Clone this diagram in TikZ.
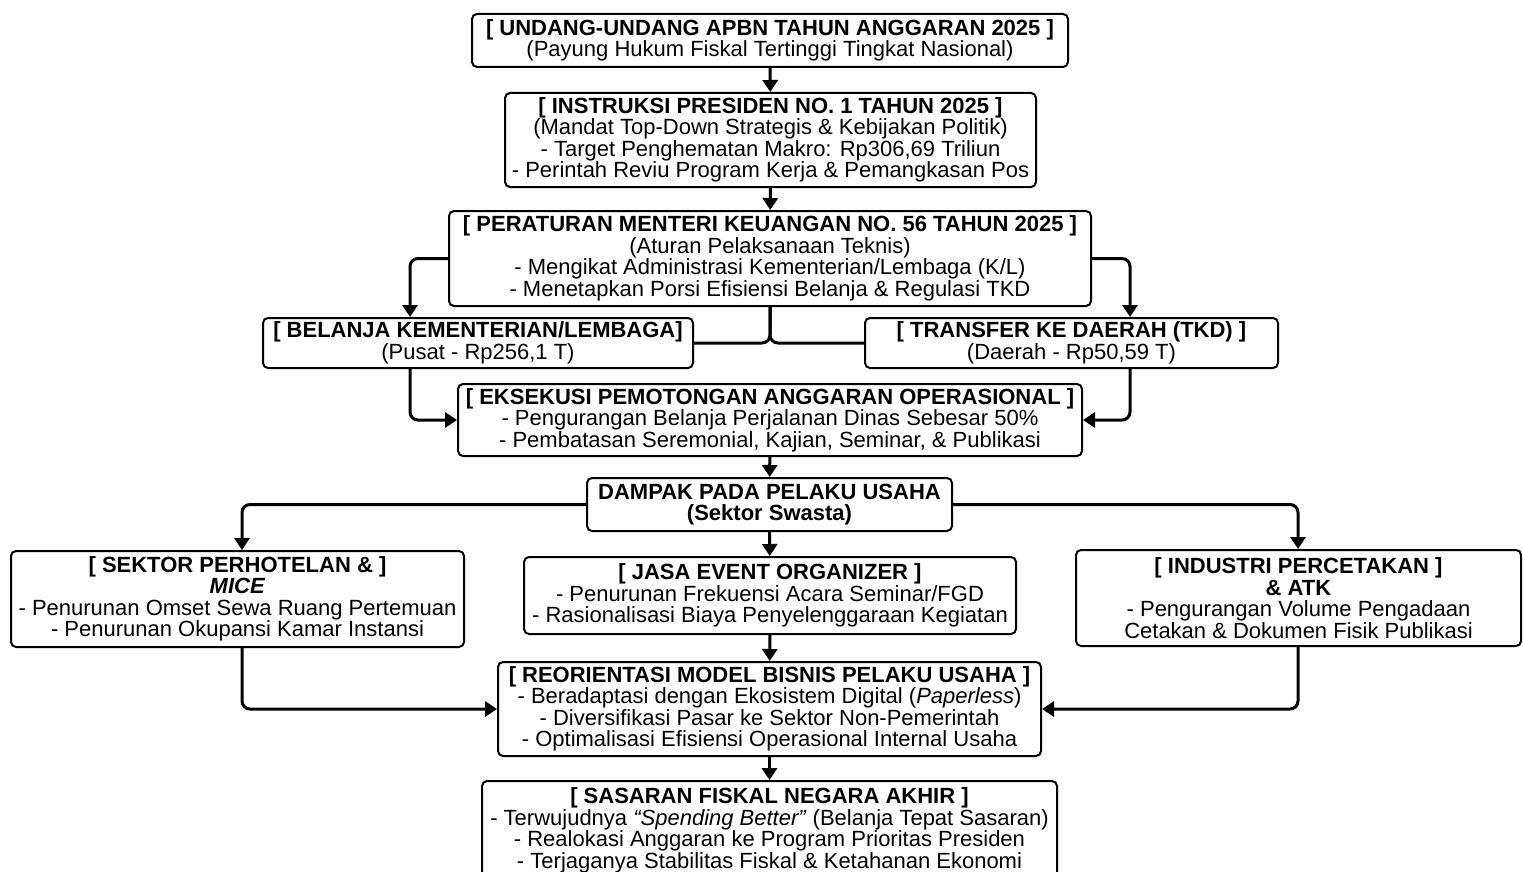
\documentclass[tikz,border=0pt]{standalone}
\usepackage{fontspec}
\setmainfont{Liberation Sans}
\usepackage{tikz}
\usetikzlibrary{arrows.meta}
\definecolor{garis}{RGB}{0,0,0}

\begin{document}
\begin{tikzpicture}[x=1pt,y=-1pt,
  kotak/.style={draw=garis,line width=2pt,rounded corners=5pt,align=center,inner sep=2pt,
    font=\fontsize{22}{21.5}\selectfont},
  panah/.style={draw=garis,line width=3pt,rounded corners=8pt,-{Triangle[width=15pt,length=12pt]}},
  sambung/.style={draw=garis,line width=3pt,rounded corners=8pt}]
\useasboundingbox (0,0) rectangle (1523,872);
\fill[white] (0,0) rectangle (1523,872);

\node [kotak,minimum width=596pt,minimum height=53pt] (uu) at (770,40.5)
{\textbf{[ UNDANG-UNDANG APBN TAHUN ANGGARAN 2025 ]}\\(Payung Hukum Fiskal Tertinggi Tingkat Nasional)};
\node [kotak,minimum width=531pt,minimum height=94pt] (inpres) at (770.5,140)
{\textbf{[ INSTRUKSI PRESIDEN NO. 1 TAHUN 2025 ]}\\(Mandat Top-Down Strategis \& Kebijakan Politik)\\
- Target Penghematan Makro: Rp306,69 Triliun\\- Perintah Reviu Program Kerja \& Pemangkasan Pos};
\node [kotak,minimum width=642pt,minimum height=95pt] (pmk) at (770,258.5)
{\textbf{[ PERATURAN MENTERI KEUANGAN NO. 56 TAHUN 2025 ]}\\(Aturan Pelaksanaan Teknis)\\
- Mengikat Administrasi Kementerian/Lembaga (K/L)\\- Menetapkan Porsi Efisiensi Belanja \& Regulasi TKD};
\node [kotak,minimum width=430pt,minimum height=50pt] (kl) at (478,343)
{\textbf{[ BELANJA KEMENTERIAN/LEMBAGA]}\\(Pusat - Rp256,1 T)};
\node [kotak,minimum width=413pt,minimum height=50pt] (tkd) at (1071.5,343)
{\textbf{[ TRANSFER KE DAERAH (TKD) ]}\\(Daerah - Rp50,59 T)};
\node [kotak,minimum width=624pt,minimum height=72pt] (eksekusi) at (770,420)
{\textbf{[ EKSEKUSI PEMOTONGAN ANGGARAN OPERASIONAL ]}\\- Pengurangan Belanja Perjalanan Dinas Sebesar 50\%\\
- Pembatasan Seremonial, Kajian, Seminar, \& Publikasi};
\node [kotak,minimum width=365pt,minimum height=53pt] (dampak) at (769.5,504.5)
{\textbf{DAMPAK PADA PELAKU USAHA}\\\textbf{(Sektor Swasta)}};
\node [kotak,minimum width=453pt,minimum height=96pt] (hotel) at (237.5,599)
{\textbf{[ SEKTOR PERHOTELAN \& ]}\\\textbf{\textit{MICE}}\\
- Penurunan Omset Sewa Ruang Pertemuan\\- Penurunan Okupansi Kamar Instansi};
\node [kotak,minimum width=492pt,minimum height=77pt] (eo) at (770,595.5)
{\textbf{[ JASA EVENT ORGANIZER ]}\\- Penurunan Frekuensi Acara Seminar/FGD\\
- Rasionalisasi Biaya Penyelenggaraan Kegiatan};
\node [kotak,minimum width=445pt,minimum height=96pt] (cetak) at (1298.5,598)
{\textbf{[ INDUSTRI PERCETAKAN ]}\\\textbf{\& ATK}\\
- Pengurangan Volume Pengadaan\\Cetakan \& Dokumen Fisik Publikasi};
\node [kotak,minimum width=543pt,minimum height=94pt] (reorientasi) at (769.5,709)
{\textbf{[ REORIENTASI MODEL BISNIS PELAKU USAHA ]}\\- Beradaptasi dengan Ekosistem Digital (\textit{Paperless})\\
- Diversifikasi Pasar ke Sektor Non-Pemerintah\\- Optimalisasi Efisiensi Operasional Internal Usaha};
\node [kotak,minimum width=575pt,minimum height=99pt] (sasaran) at (769.5,830.5)
{\textbf{[ SASARAN FISKAL NEGARA AKHIR ]}\\- Terwujudnya \textit{``Spending Better''} (Belanja Tepat Sasaran)\\
- Realokasi Anggaran ke Program Prioritas Presiden\\- Terjaganya Stabilitas Fiskal \& Ketahanan Ekonomi};

\draw[panah] (uu) -- (inpres);
\draw[panah] (inpres) -- (pmk);
\draw[panah] (pmk.west) -| (410,0 |- kl.north);
\draw[panah] (pmk.east) -| (1130,0 |- tkd.north);
\draw[sambung] (pmk.south) |- (kl.east);
\draw[sambung] (pmk.south) |- (tkd.west);
\draw[panah] (410,0 |- kl.south) |- (eksekusi.west);
\draw[panah] (1130,0 |- tkd.south) |- (eksekusi.east);
\draw[panah] (eksekusi) -- (dampak);
\draw[panah] (dampak.west) -| (242,0 |- hotel.north);
\draw[panah] (dampak.east) -| (1298,0 |- cetak.north);
\draw[panah] (dampak) -- (eo);
\draw[panah] (eo) -- (reorientasi);
\draw[panah] (242,0 |- hotel.south) |- (reorientasi.west);
\draw[panah] (1298,0 |- cetak.south) |- (reorientasi.east);
\draw[panah] (reorientasi) -- (sasaran);
\end{tikzpicture}
\end{document}
